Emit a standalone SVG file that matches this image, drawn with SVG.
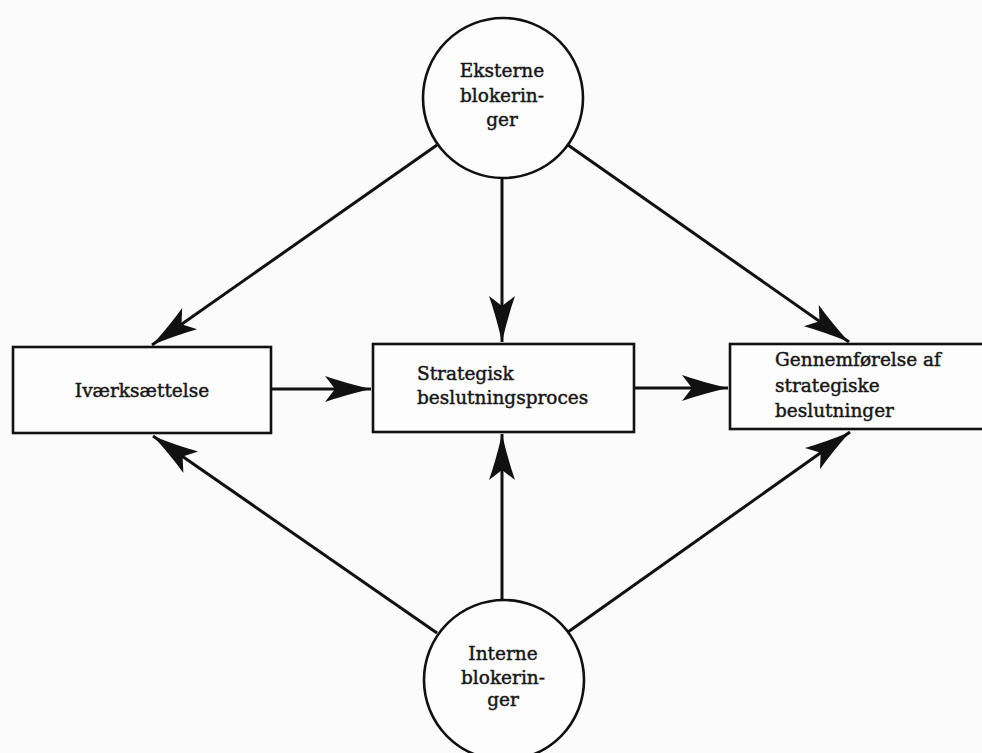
<svg xmlns="http://www.w3.org/2000/svg" width="982" height="753" viewBox="0 0 982 753">
  <style>
    .bg { fill: #fbfbfb; }
    .node { fill: #fdfdfd; stroke: #111; stroke-width: 2.6; }
    .lbl { font-family: "DejaVu Serif", "Liberation Serif", serif; font-size: 18.5px; fill: #161616; stroke: #161616; stroke-width: 0.45; }
    .mid { text-anchor: middle; }
    .edge { fill: none; stroke: #111; stroke-width: 3; marker-end: url(#arr); }
  </style>
  <defs>
    <marker id="arr" viewBox="-48 -15 50 30" refX="0" refY="0" markerUnits="userSpaceOnUse" markerWidth="50" markerHeight="30" orient="auto">
      <path d="M0,0 Q-26,-6 -46,-13 L-36,0 L-46,13 Q-26,6 0,0 Z" fill="#111"/>
    </marker>
  </defs>
  <rect class="bg" x="0" y="0" width="982" height="753"/>

  <g id="connectors">
    <line class="edge" x1="437" y1="145" x2="152" y2="345"/>
    <line class="edge" x1="502" y1="178" x2="502" y2="342"/>
    <line class="edge" x1="568" y1="145" x2="849" y2="342"/>
    <line class="edge" x1="271" y1="389" x2="371" y2="389"/>
    <line class="edge" x1="634" y1="388" x2="728" y2="388"/>
    <line class="edge" x1="437" y1="633" x2="153" y2="436"/>
    <line class="edge" x1="502" y1="600" x2="502" y2="434"/>
    <line class="edge" x1="568" y1="632" x2="850" y2="432"/>
  </g>

  <g id="eksterne">
    <circle class="node" cx="503" cy="98" r="80"/>
    <text class="lbl mid" x="502" y="77">Eksterne</text>
    <text class="lbl mid" x="502" y="102">blokerin-</text>
    <text class="lbl mid" x="502" y="126">ger</text>
  </g>

  <g id="ivaerksaettelse">
    <rect class="node" x="13" y="347" width="258" height="86"/>
    <text class="lbl mid" x="142" y="397">Iværksættelse</text>
  </g>

  <g id="strategisk">
    <rect class="node" x="373" y="344" width="261" height="88"/>
    <text class="lbl" x="417" y="380">Strategisk</text>
    <text class="lbl" x="417" y="404">beslutningsproces</text>
  </g>

  <g id="gennemfoerelse">
    <rect class="node" x="730" y="344" width="270" height="85"/>
    <text class="lbl" x="775" y="366">Gennemførelse af</text>
    <text class="lbl" x="775" y="392">strategiske</text>
    <text class="lbl" x="775" y="417">beslutninger</text>
  </g>

  <g id="interne">
    <circle class="node" cx="504" cy="680" r="80"/>
    <text class="lbl mid" x="503" y="660">Interne</text>
    <text class="lbl mid" x="503" y="684">blokerin-</text>
    <text class="lbl mid" x="503" y="706">ger</text>
  </g>
</svg>
